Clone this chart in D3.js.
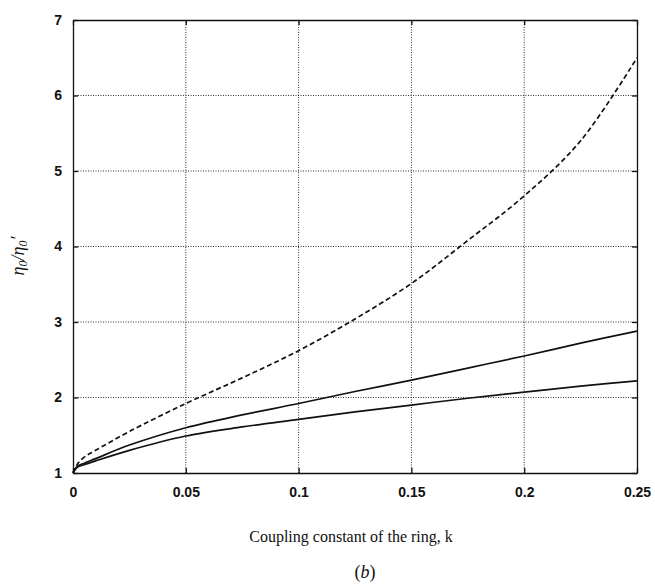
<!DOCTYPE html>
<html>
<head>
<meta charset="utf-8">
<script src="https://cdn.jsdelivr.net/npm/d3@7"></script>
<style>
  html, body { margin: 0; padding: 0; background: #fff; }
  svg { display: block; }
  .tick-label { font-family: "Liberation Sans", Arial, sans-serif; font-weight: bold; font-size: 14px; fill: #111; }
</style>
</head>
<body>
<svg id="chart" width="655" height="584"></svg>
<script>
// Coupling constant k along the x axis
const kValues = [0, 0.002, 0.005, 0.01, 0.025, 0.05, 0.075, 0.1, 0.125, 0.15, 0.175, 0.2, 0.225, 0.25];
// η0/η0' ratio for each curve
const dashedSeries = [1.0, 1.12, 1.21, 1.30, 1.55, 1.92, 2.26, 2.62, 3.04, 3.51, 4.08, 4.67, 5.40, 6.50];
const upperSolid   = [1.0, 1.09, 1.13, 1.19, 1.37, 1.60, 1.77, 1.92, 2.08, 2.23, 2.39, 2.55, 2.72, 2.88];
const lowerSolid   = [1.0, 1.08, 1.11, 1.16, 1.30, 1.49, 1.61, 1.71, 1.81, 1.90, 1.99, 2.07, 2.15, 2.22];
const xTicks = [0, 0.05, 0.1, 0.15, 0.2, 0.25];
const xTickLabels = ["0", "0.05", "0.1", "0.15", "0.2", "0.25"];
const yTicks = [1, 2, 3, 4, 5, 6, 7];

const svg = d3.select("#chart");
const margin = { left: 73, right: 18, top: 20, bottom: 111 };
const W = 655, H = 584;
const iw = W - margin.left - margin.right;
const ih = H - margin.top - margin.bottom;

const x = d3.scaleLinear().domain([0, 0.25]).range([margin.left, margin.left + iw]);
const y = d3.scaleLinear().domain([1, 7]).range([margin.top + ih, margin.top]);

// dotted grid
const grid = svg.append("g");
grid.selectAll("line.gx").data(xTicks.slice(1, -1)).join("line")
  .attr("x1", d => x(d)).attr("x2", d => x(d))
  .attr("y1", y(1)).attr("y2", y(7))
  .attr("stroke", "#333").attr("stroke-width", 1).attr("stroke-dasharray", "1,1.5");
grid.selectAll("line.gy").data(yTicks.slice(1, -1)).join("line")
  .attr("x1", x(0)).attr("x2", x(0.25))
  .attr("y1", d => y(d)).attr("y2", d => y(d))
  .attr("stroke", "#333").attr("stroke-width", 1).attr("stroke-dasharray", "1,1.5");

// axes with inward ticks on all four sides
const fmtX = (d, i) => xTickLabels[i];
const bottomAxis = svg.append("g").attr("transform", `translate(0,${y(1)})`)
  .call(d3.axisBottom(x).tickValues(xTicks).tickFormat(fmtX).tickSizeInner(-5).tickSizeOuter(0).tickPadding(14));
const leftAxis = svg.append("g").attr("transform", `translate(${x(0)},0)`)
  .call(d3.axisLeft(y).tickValues(yTicks).tickFormat(d3.format("d")).tickSizeInner(-5).tickSizeOuter(0).tickPadding(11));
const topAxis = svg.append("g").attr("transform", `translate(0,${y(7)})`)
  .call(d3.axisTop(x).tickValues(xTicks).tickFormat("").tickSizeInner(-5).tickSizeOuter(0));
const rightAxis = svg.append("g").attr("transform", `translate(${x(0.25)},0)`)
  .call(d3.axisRight(y).tickValues(yTicks).tickFormat("").tickSizeInner(-5).tickSizeOuter(0));

[bottomAxis, leftAxis, topAxis, rightAxis].forEach(a => {
  a.select(".domain").attr("stroke", "#111").attr("stroke-width", 1.3);
  a.selectAll(".tick line").attr("stroke", "#111").attr("stroke-width", 1.3);
  a.selectAll(".tick text").attr("class", "tick-label").attr("font-family", null).attr("font-size", null);
});

// curves
const line = vals => d3.line().x((d, i) => x(kValues[i])).y(d => y(d)).curve(d3.curveCatmullRom.alpha(0.5))(vals);

svg.append("path").attr("d", line(dashedSeries))
  .attr("fill", "none").attr("stroke", "#111").attr("stroke-width", 1.7)
  .attr("stroke-dasharray", "5,3");
svg.append("path").attr("d", line(upperSolid))
  .attr("fill", "none").attr("stroke", "#111").attr("stroke-width", 1.7);
svg.append("path").attr("d", line(lowerSolid))
  .attr("fill", "none").attr("stroke", "#111").attr("stroke-width", 1.7);

// y-axis title: η0/η0′
const yt = svg.append("text")
  .attr("transform", `translate(24,${256}) rotate(-90)`)
  .attr("text-anchor", "middle")
  .attr("font-family", "'Liberation Serif', 'Times New Roman', serif")
  .attr("font-style", "italic").attr("font-size", 18).attr("fill", "#111");
yt.append("tspan").text("η");
yt.append("tspan").attr("font-size", 12).attr("dy", 3).text("0");
yt.append("tspan").attr("dy", -3).text("/η");
yt.append("tspan").attr("font-size", 12).attr("dy", 3).text("0");
yt.append("tspan").attr("dy", -3).text("′");

// x-axis title
svg.append("text")
  .attr("x", 351).attr("y", 542)
  .attr("text-anchor", "middle")
  .attr("font-family", "'Liberation Serif', 'Times New Roman', serif")
  .attr("font-size", 16).attr("fill", "#111")
  .text("Coupling constant of the ring, k");

// panel label (b)
const pl = svg.append("text")
  .attr("x", 365).attr("y", 578)
  .attr("text-anchor", "middle")
  .attr("font-family", "'Liberation Serif', 'Times New Roman', serif")
  .attr("font-size", 18).attr("fill", "#111");
pl.append("tspan").text("(");
pl.append("tspan").attr("font-style", "italic").text("b");
pl.append("tspan").text(")");
</script>
</body>
</html>
